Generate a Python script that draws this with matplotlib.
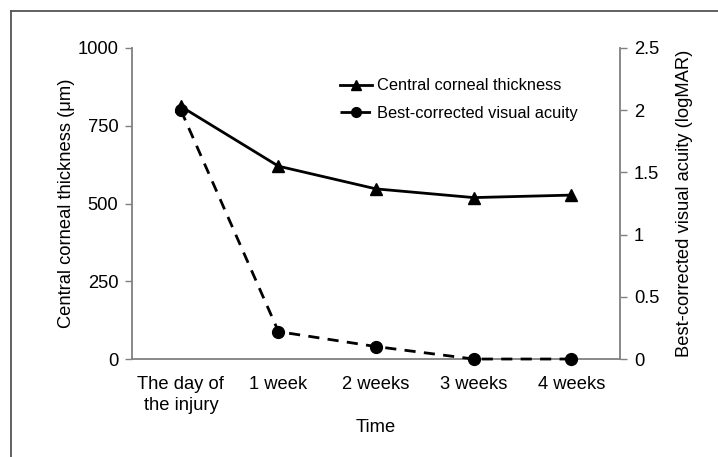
import matplotlib
matplotlib.use('Agg')
import matplotlib.pyplot as plt
from matplotlib.lines import Line2D

plt.rcParams['font.family'] = ['Liberation Sans', 'DejaVu Sans']

# data
categories = ['The day of\nthe injury', '1 week', '2 weeks', '3 weeks', '4 weeks']
cct = [812, 620, 547, 519, 527]          # central corneal thickness (um)
bcva = [2.0, 0.22, 0.10, 0.0, 0.0]       # logMAR
left_ticks = [0, 250, 500, 750, 1000]
right_ticks = [0, 0.5, 1, 1.5, 2, 2.5]
right_labels = ['0', '0.5', '1', '1.5', '2', '2.5']

fig = plt.figure(figsize=(7.18, 4.57), dpi=100)
ax = fig.add_axes([0.184, 0.2144, 0.6795, 0.6806])
ax2 = ax.twinx()

x = list(range(len(categories)))
spine_col = '#808080'
fs = 13.2

l1, = ax.plot(x, cct, color='black', lw=2, marker='^', ms=8.5, zorder=3)
l2, = ax2.plot(x, bcva, color='black', lw=2, ls=(0, (4, 3)), marker='o', ms=8.5,
               clip_on=False, zorder=3)

ax.set_xlim(-0.5, 4.5)
ax.set_ylim(0, 1000)
ax2.set_ylim(0, 2.5)
ax.set_yticks(left_ticks)
ax.set_yticklabels([str(t) for t in left_ticks])
ax2.set_yticks(right_ticks)
ax2.set_yticklabels(right_labels)
ax.set_xticks(x)
ax.set_xticklabels(categories, fontsize=fs, linespacing=1.3)

for a in (ax, ax2):
    a.spines['top'].set_visible(False)
    for s in ('left', 'right', 'bottom'):
        a.spines[s].set_color(spine_col)
        a.spines[s].set_linewidth(1.3)
    a.tick_params(axis='y', direction='out', length=5, width=1, color=spine_col,
                  labelsize=fs, pad=5)
ax.spines['right'].set_visible(False)
ax2.spines['left'].set_visible(False)
ax2.spines['bottom'].set_visible(False)
ax.tick_params(axis='x', length=0, pad=12)

ax.set_ylabel('Central corneal thickness (μm)', fontsize=fs, labelpad=2)
ax2.set_ylabel('Best-corrected visual acuity (logMAR)', fontsize=fs, labelpad=12)
ax.set_xlabel('Time', fontsize=fs, labelpad=4)

handles = [Line2D([], [], color='black', lw=2, marker='^', ms=7),
           Line2D([], [], color='black', lw=2, ls=(0, (4, 3)), marker='o', ms=7)]
ax.legend(handles, ['Central corneal thickness', 'Best-corrected visual acuity'],
          loc='upper left', bbox_to_anchor=(0.395, 0.95), frameon=False,
          fontsize=11.8, handlelength=2.0, handletextpad=0.3, labelspacing=0.75)

# outer frame (top and left edges visible)
fig.add_artist(Line2D([0.015, 1.0], [0.976, 0.976], color='#555555', lw=1.3,
                      transform=fig.transFigure))
fig.add_artist(Line2D([0.015, 0.015], [0.0, 0.976], color='#555555', lw=1.3,
                      transform=fig.transFigure))

fig.savefig('out.png', dpi=100)
